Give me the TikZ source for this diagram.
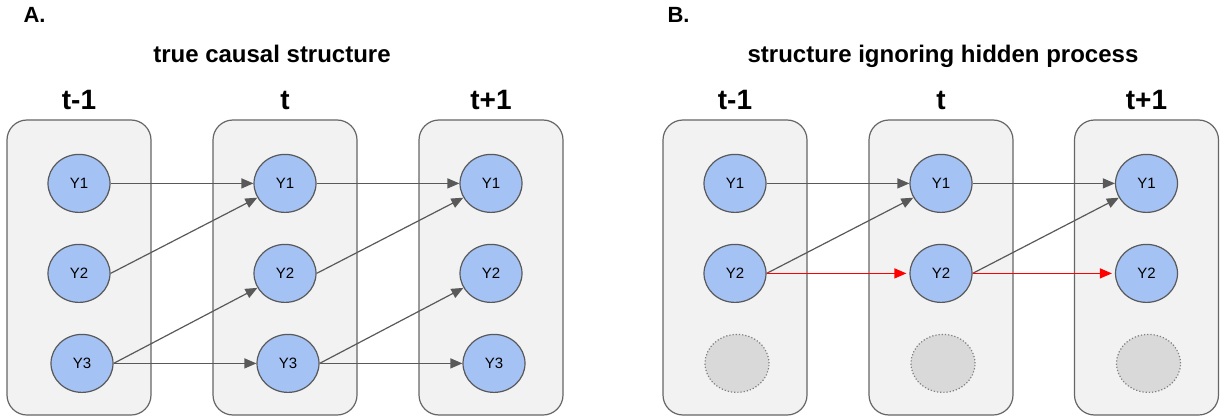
\documentclass[tikz,border=0pt]{standalone}
\usepackage{fontspec}
\setmainfont{Liberation Sans}
\usepackage{xcolor}
\usetikzlibrary{
arrows.meta,
positioning,
shapes.geometric
}
\definecolor{varblue}{HTML}{A4C2F4}
\definecolor{slicefill}{HTML}{F2F2F2}
\definecolor{slicedraw}{HTML}{666666}
\definecolor{edgegray}{HTML}{595959}
\definecolor{hiddenfill}{HTML}{D9D9D9}
\tikzset{
  panellbl/.style={
    anchor=base west,
    font=\bfseries\fontsize{22}{22}\selectfont
  },
  titlelbl/.style={
    anchor=base,
    font=\bfseries\fontsize{24}{24}\selectfont
  },
  % Time slice label above each box:
  timelbl/.style={anchor=base, font=\bfseries\fontsize{28}{28}\selectfont}
}

\begin{document}
\begin{tikzpicture}[
    x=1pt, y=1pt,
    slice/.style={
      draw=slicedraw,
      fill=slicefill,
      line width=1.2pt,
      rounded corners=20pt,
      minimum width=144pt,
      minimum height=295pt
    },
    var/.style={
      ellipse,
      draw=edgegray,
      fill=varblue,
      line width=1.2pt,
      inner sep=0pt,
      minimum width=62pt,
      minimum height=58pt,
      font=\fontsize{15}{15}\selectfont
    },
    hidden/.style={
      var,
      fill=hiddenfill,
      draw=gray,
      dotted,
      minimum width=64pt
    },
    reference/.style={
      draw=edgegray,
      line width=1.2pt,
      -{Triangle[length=12pt,width=10pt]}
    },
    ignored/.style={
      reference,
      draw=red,
      fill=red,
      shorten >=3pt
    }
  ]
  \useasboundingbox (0,0) rectangle (1225,-417);
  % Panel A
  \node[panellbl] (panelA) at (20,-23) {A.};
  \node[titlelbl] (titleA) at (272,-63) {true causal structure};
  \node[slice] (sliceA1) at (79,-267.5) {};
  \node[slice] (sliceA2) at (285,-267.5) {};
  \node[slice] (sliceA3) at (491,-267.5) {};
  \node[timelbl,yshift=10pt] at(sliceA1.north) {t-1};
  \node[timelbl,yshift=10pt] at(sliceA2.north) {t};
  \node[timelbl,yshift=10pt] at(sliceA3.north) {t+1};
  \node[var,yshift=-64pt] (a1y1) at(sliceA1.north) {Y1};
  \node[var,yshift=-154pt] (a1y2) at(sliceA1.north) {Y2};
  \node[var,xshift=3pt,yshift=-244pt] (a1y3) at(sliceA1.north) {Y3};
  \node[var,yshift=-64pt] (a2y1) at(sliceA2.north) {Y1};
  \node[var,yshift=-154pt] (a2y2) at(sliceA2.north) {Y2};
  \node[var,xshift=3pt,yshift=-244pt] (a2y3) at(sliceA2.north) {Y3};
  \node[var,yshift=-64pt] (a3y1) at(sliceA3.north) {Y1};
  \node[var,yshift=-154pt] (a3y2) at(sliceA3.north) {Y2};
  \node[var,xshift=3pt,yshift=-244pt] (a3y3) at(sliceA3.north) {Y3};
  \draw[reference] (a1y1.east) -- (a2y1);
  \draw[reference] (a1y2.east) -- (a2y1);
  \draw[reference] (a1y3.east) -- (a2y2);
  \draw[reference] (a1y3.east) -- (a2y3);
  \draw[reference] (a2y1.east) -- (a3y1);
  \draw[reference] (a2y2.east) -- (a3y1);
  \draw[reference] (a2y3.east) -- (a3y2);
  \draw[reference] (a2y3.east) -- (a3y3);
  % Panel B
  \node[panellbl] (panelB) at (664,-23) {B.};
  \node[titlelbl] (titleB) at (943,-63) {structure ignoring hidden process};
  \node[slice] (sliceB1) at (735,-267.5) {};
  \node[slice] (sliceB2) at (941,-267.5) {};
  \node[slice] (sliceB3) at (1146.5,-267.5) {};
  \node[timelbl,yshift=10pt] at(sliceB1.north) {t-1};
  \node[timelbl,yshift=10pt] at(sliceB2.north) {t};
  \node[timelbl,yshift=10pt] at(sliceB3.north) {t+1};
  \node[var,yshift=-64pt] (b1y1) at(sliceB1.north) {Y1};
  \node[var,yshift=-154pt] (b1y2) at(sliceB1.north) {Y2};
  \node[hidden,xshift=2pt,yshift=-244pt] (b1h) at(sliceB1.north) {};
  \node[var,yshift=-64pt] (b2y1) at(sliceB2.north) {Y1};
  \node[var,yshift=-154pt] (b2y2) at(sliceB2.north) {Y2};
  \node[hidden,xshift=2pt,yshift=-244pt] (b2h) at(sliceB2.north) {};
  \node[var,yshift=-64pt] (b3y1) at(sliceB3.north) {Y1};
  \node[var,yshift=-154pt] (b3y2) at(sliceB3.north) {Y2};
  \node[hidden,xshift=2pt,yshift=-244pt] (b3h) at(sliceB3.north) {};
  \draw[reference] (b1y1.east) -- (b2y1);
  \draw[reference] (b1y2.east) -- (b2y1);
  \draw[ignored] (b1y2.east) -- (b2y2);
  \draw[reference] (b2y1.east) -- (b3y1);
  \draw[reference] (b2y2.east) -- (b3y1);
  \draw[ignored] (b2y2.east) -- (b3y2);
\end{tikzpicture}
\end{document}
